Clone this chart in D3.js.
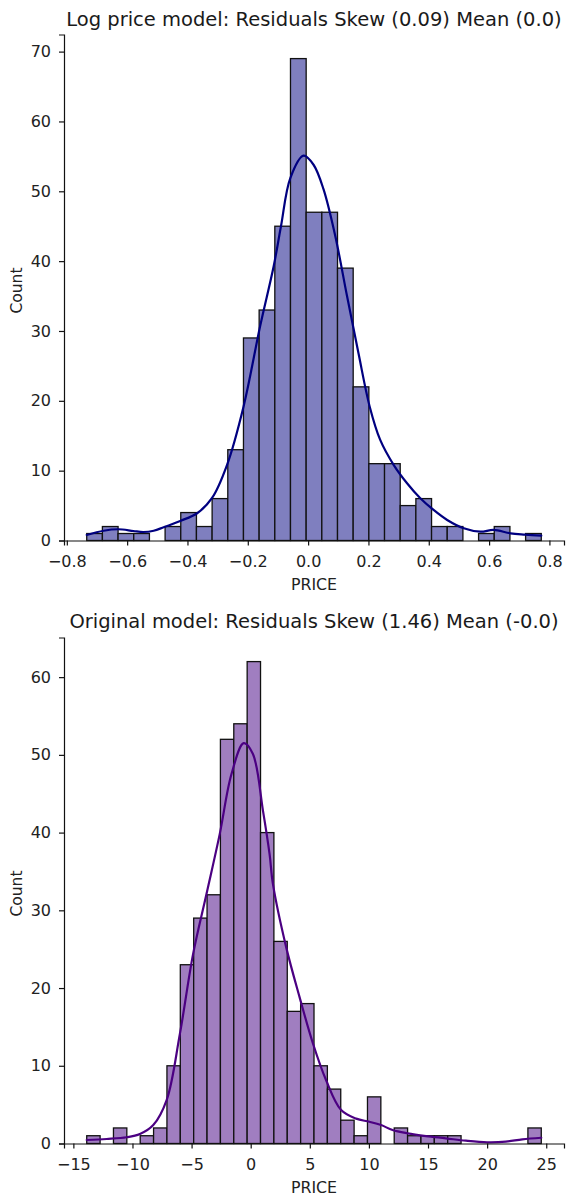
<!DOCTYPE html>
<html>
<head>
<meta charset="utf-8">
<script src="https://cdn.jsdelivr.net/npm/d3@7"></script>
<style>
  html, body { margin: 0; padding: 0; background: #fff; }
  svg { display: block; font-family: "DejaVu Sans", sans-serif; }
</style>
</head>
<body>
<svg id="chart" width="568" height="1200"></svg>
<script>
// ---------- Data ----------
const titles = [
  "Log price model: Residuals Skew (0.09) Mean (0.0)",
  "Original model: Residuals Skew (1.46) Mean (-0.0)"
];
const xLabel = "PRICE";
const yLabel = "Count";

// Top (log model) histogram: 29 equal bins between these edges
const topBinRange = [-0.734, 0.773];
const topCounts = [1,2,1,1,0,2,4,2,6,13,29,33,45,69,47,47,39,22,11,11,5,6,2,2,0,1,2,0,1];
const topXTicks = [-0.8,-0.6,-0.4,-0.2,0.0,0.2,0.4,0.6,0.8];
const topYTicks = [0,10,20,30,40,50,60,70];
const topKdeX = [-0.734,-0.678,-0.629,-0.579,-0.546,-0.512,-0.479,-0.424,-0.368,-0.319,-0.269,-0.214,-0.159,-0.114,-0.09,-0.059,-0.015,0.018,0.051,0.090,0.129,0.167,0.204,0.239,0.284,0.328,0.372,0.416,0.461,0.516,0.571,0.615,0.671,0.72,0.773];
const topKdeY = [0.79,1.40,1.61,1.36,1.22,1.40,1.89,2.80,3.90,6.05,10.8,19.2,30.7,39.3,45.0,51.9,55.1,53.8,50.3,43.6,35.0,26.8,19.2,14.4,10.8,8.2,6.05,4.37,2.94,1.75,1.26,1.51,1.03,0.85,0.70];

// Bottom (original model) histogram: 34 equal bins between these edges
const botBinRange = [-13.87, 24.58];
const botCounts = [1,0,2,0,1,2,10,23,29,32,52,54,62,40,26,17,18,10,7,3,1,6,0,2,1,1,1,1,0,0,0,0,0,2];
const botXTicks = [-15,-10,-5,0,5,10,15,20,25];
const botYTicks = [0,10,20,30,40,50,60];
const botKdeX = [-13.87,-12.18,-10.49,-9.37,-8.24,-7.11,-5.99,-4.87,-3.74,-2.62,-1.63,-0.59,0.19,1.04,1.60,1.88,3.01,4.14,5.26,6.39,7.65,8.92,10.04,11.03,12.0,13.27,14.83,16.51,18.2,20.0,21.58,22.98,24.58];
const botKdeY = [0.45,0.58,0.80,1.22,2.37,5.58,14.1,24.4,32.1,39.8,47.5,51.5,50.1,42.8,37.2,33.4,25.2,18.8,12.9,8.1,4.3,3.2,2.8,2.37,1.73,1.31,0.96,0.67,0.36,0.15,0.23,0.54,0.74];

// ---------- Layout ----------
const svg = d3.select("#chart");
const L = 64, R = 564;
const panels = [
  { title: titles[0], range: topBinRange, counts: topCounts, xt: topXTicks, yt: topYTicks,
    kx: topKdeX, ky: topKdeY, top: 34.5, bottom: 540.5, titleY: 26,
    fill: "#7f7fbf", line: "#000080", dec: 1 },
  { title: titles[1], range: botBinRange, counts: botCounts, xt: botXTicks, yt: botYTicks,
    kx: botKdeX, ky: botKdeY, top: 637.5, bottom: 1143.5, titleY: 628,
    fill: "#a07ec0", line: "#4b0082", dec: 0 }
];

const fmtMinus = (s) => s.replace("-", "\u2212");

panels.forEach(p => {
  const n = p.counts.length;
  const [lo, hi] = p.range;
  const w = (hi - lo) / n;
  const pad = 0.05 * (hi - lo);
  const ymax = d3.max(p.counts) * 1.05;

  const x = d3.scaleLinear().domain([lo - pad, hi + pad]).range([L, R]);
  const y = d3.scaleLinear().domain([0, ymax]).range([p.bottom, p.top]);

  const g = svg.append("g");

  // bars
  g.selectAll("rect.bar").data(p.counts).enter().append("rect")
    .attr("class", "bar")
    .attr("x", (d, i) => x(lo + i * w))
    .attr("width", (d, i) => x(lo + (i + 1) * w) - x(lo + i * w))
    .attr("y", d => y(d))
    .attr("height", d => y(0) - y(d))
    .attr("fill", p.fill)
    .attr("stroke", d => d > 0 ? "#111" : "none")
    .attr("stroke-width", 1.3);

  // KDE line
  const pts = p.kx.map((v, i) => [v, p.ky[i]]);
  g.append("path")
    .datum(pts)
    .attr("fill", "none")
    .attr("stroke", p.line)
    .attr("stroke-width", 2.2)
    .attr("stroke-linejoin", "round")
    .attr("stroke-linecap", "round")
    .attr("d", d3.line().x(d => x(d[0])).y(d => y(d[1])).curve(d3.curveCatmullRom.alpha(0.5)));

  // axes
  const xAxis = d3.axisBottom(x).tickValues(p.xt).tickSizeOuter(0).tickSize(5)
    .tickFormat(v => fmtMinus(d3.format("." + p.dec + "f")(v)));
  const gx = g.append("g").attr("transform", `translate(0,${p.bottom})`).call(xAxis);
  gx.select(".domain").attr("stroke", "#111").attr("stroke-width", 1.2);
  gx.selectAll(".tick line").attr("stroke", "#111").attr("stroke-width", 1.2);
  gx.selectAll(".tick text").attr("y", 26).attr("dy", null)
    .attr("font-size", 16).attr("fill", "#222").attr("font-family", "DejaVu Sans");

  const yAxis = d3.axisLeft(y).tickValues(p.yt).tickSizeOuter(0).tickSize(5).tickPadding(8)
    .tickFormat(d3.format("d"));
  const gy = g.append("g").attr("transform", `translate(${L},0)`).call(yAxis);
  gy.select(".domain").attr("stroke", "#111").attr("stroke-width", 1.2);
  gy.selectAll(".tick line").attr("stroke", "#111").attr("stroke-width", 1.2);
  gy.selectAll(".tick text").attr("font-size", 16).attr("fill", "#222")
    .attr("font-family", "DejaVu Sans");

  // labels
  g.append("text").attr("x", (L + R) / 2).attr("y", p.bottom + 49)
    .attr("text-anchor", "middle").attr("font-size", 15.8).attr("fill", "#222").text(xLabel);
  const cy = (p.top + p.bottom) / 2 + 3;
  g.append("text").attr("transform", `translate(21.5,${cy}) rotate(-90)`)
    .attr("text-anchor", "middle").attr("font-size", 15.5).attr("fill", "#222").text(yLabel);

  // title
  g.append("text").attr("x", (L + R) / 2).attr("y", p.titleY)
    .attr("text-anchor", "middle").attr("font-size", 19.5).attr("fill", "#1a1a1a").text(p.title);
});
</script>
</body>
</html>
